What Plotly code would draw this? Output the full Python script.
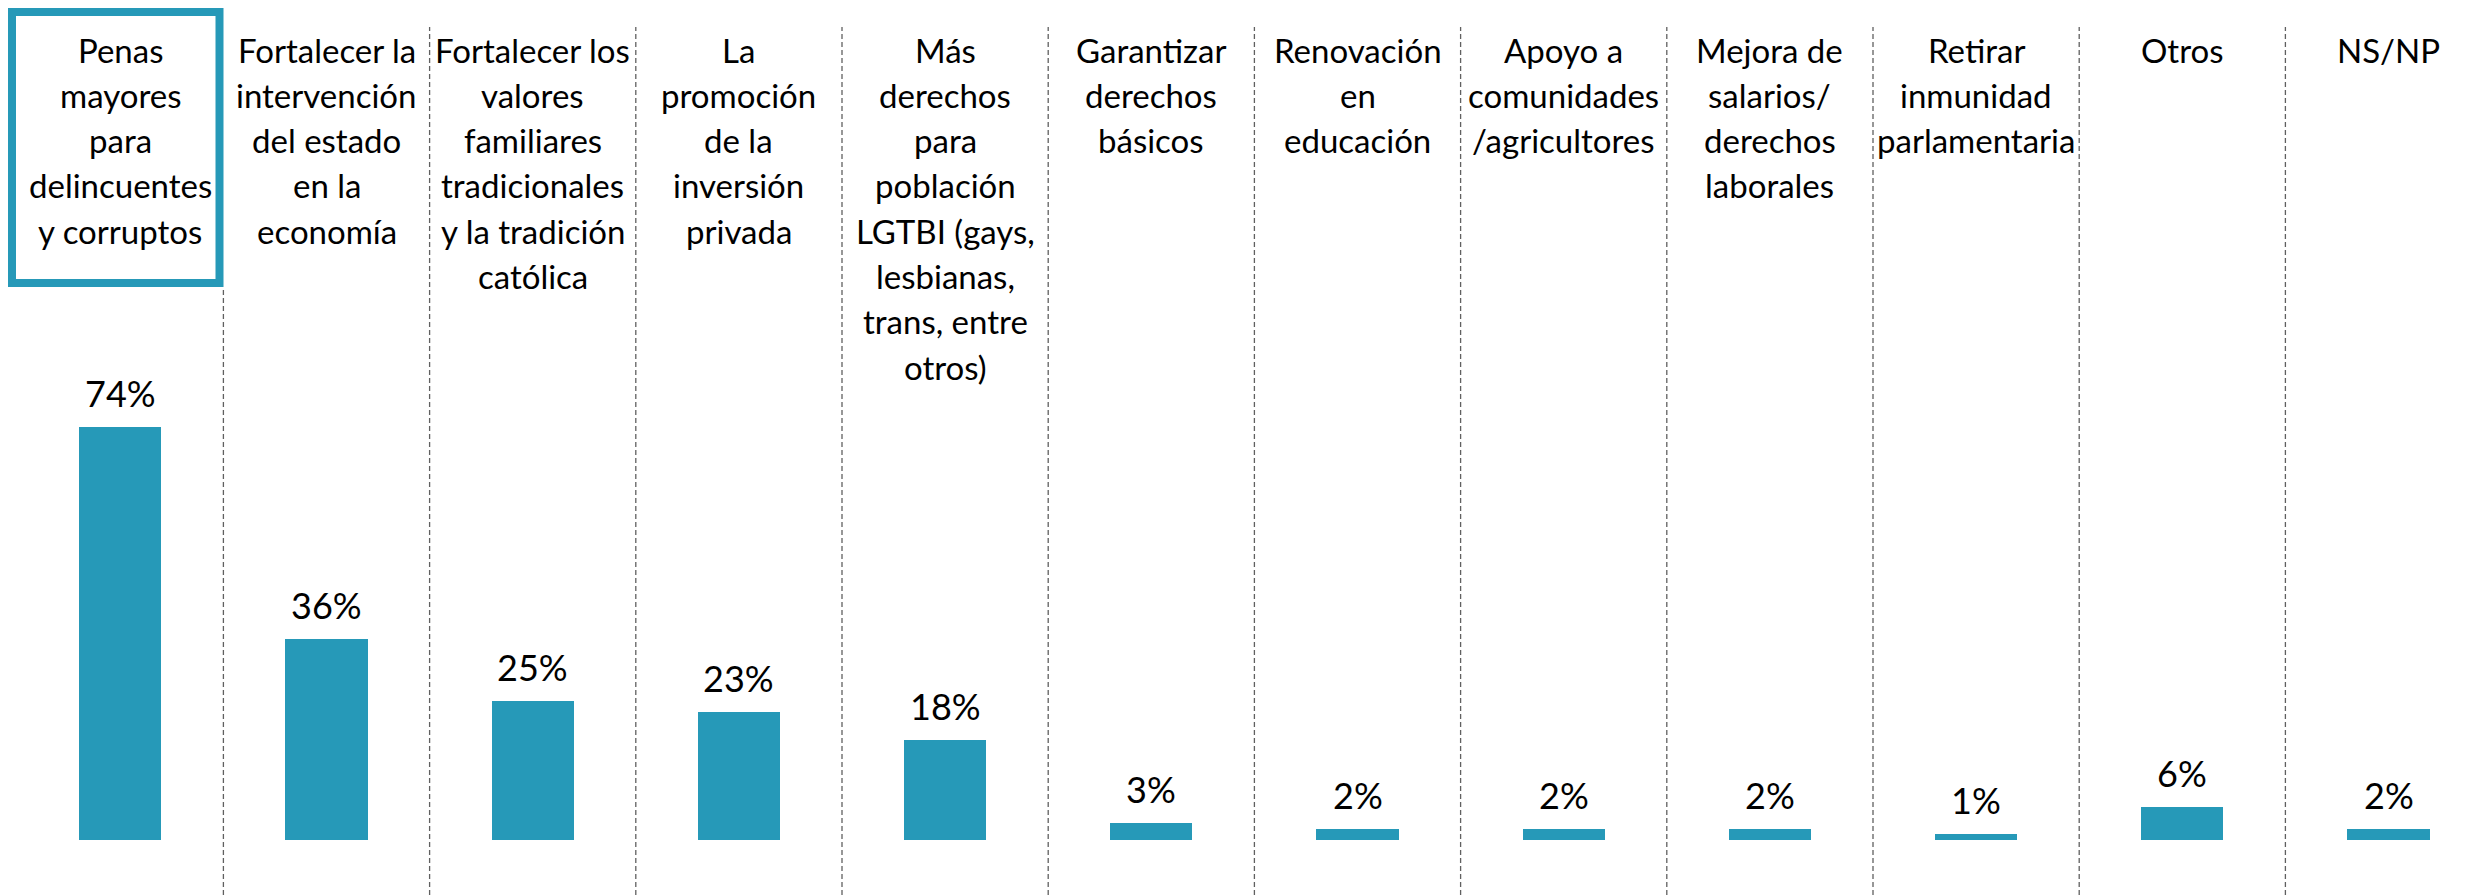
import plotly.graph_objects as go

categories = [
    "Penas<br>mayores<br>para<br>delincuentes<br>y corruptos",
    "Fortalecer la<br>intervención<br>del estado<br>en la<br>economía",
    "Fortalecer los<br>valores<br>familiares<br>tradicionales<br>y la tradición<br>católica",
    "La<br>promoción<br>de la<br>inversión<br>privada",
    "Más<br>derechos<br>para<br>población<br>LGTBI (gays,<br>lesbianas,<br>trans, entre<br>otros)",
    "Garantizar<br>derechos<br>básicos",
    "Renovación<br>en<br>educación",
    "Apoyo a<br>comunidades<br>/agricultores",
    "Mejora de<br>salarios/<br>derechos<br>laborales",
    "Retirar<br>inmunidad<br>parlamentaria",
    "Otros",
    "NS/NP",
]
values = [74, 36, 25, 23, 18, 3, 2, 2, 2, 1, 6, 2]
value_labels = ["74%", "36%", "25%", "23%", "18%", "3%", "2%", "2%", "2%", "1%", "6%", "2%"]

PAGE_W, PAGE_H = 2481, 895
OFF = 8  # default body margin of the html page
W, H = PAGE_W - OFF, PAGE_H - OFF
TEAL = "#2699B8"
FONT = "Lato"

x_idx = list(range(len(categories)))

# axis geometry (page pixel mapping)
px_per_cat = 206.2
first_center_page = 120.3
xa = -(first_center_page - OFF) / px_per_cat
xb = xa + W / px_per_cat
base_page = 840.0
px_per_pct = 5.58
ya = -(PAGE_H - base_page) / px_per_pct
yb = (base_page - OFF) / px_per_pct


def xd(page_x):
    return xa + (page_x - OFF) / px_per_cat


def yp(page_y):
    return 1 - (page_y - OFF) / H


fig = go.Figure()
fig.add_trace(go.Bar(
    x=x_idx, y=values, width=0.398,
    marker=dict(color=TEAL, line=dict(width=0)),
    hoverinfo="skip",
))

annotations = []
line_gap = 45.3
first_line_page = 52
for i, (c, v, t) in enumerate(zip(categories, values, value_labels)):
    for j, line in enumerate(c.split("<br>")):
        annotations.append(dict(
            x=i, y=yp(first_line_page + j * line_gap - 2.5), xref="x", yref="paper",
            text=line, showarrow=False, xanchor="center", yanchor="middle",
            font=dict(family=FONT, size=33, color="#000000"),
        ))
    annotations.append(dict(
        x=i, y=v, xref="x", yref="y", text=t, showarrow=False,
        xanchor="center", yanchor="bottom", yshift=10,
        font=dict(family=FONT, size=36, color="#000000"),
    ))

shapes = []
for k in range(len(categories) - 1):
    top = 287 if k == 0 else 27
    shapes.append(dict(
        type="line", xref="x", yref="paper", x0=k + 0.5, x1=k + 0.5,
        y0=0, y1=yp(top),
        line=dict(color="#606060", width=1.3, dash="5px,3px"),
    ))
shapes.append(dict(
    type="rect", xref="x", yref="paper",
    x0=xd(12), x1=xd(219.5),
    y0=yp(283), y1=yp(12),
    line=dict(color=TEAL, width=8),
))

fig.update_layout(
    width=W, height=H,
    margin=dict(l=0, r=0, t=0, b=0),
    paper_bgcolor="white", plot_bgcolor="white",
    showlegend=False,
    xaxis=dict(range=[xa, xb], visible=False, fixedrange=True),
    yaxis=dict(range=[ya, yb], visible=False, fixedrange=True),
    annotations=annotations,
    shapes=shapes,
    bargap=0,
)

fig.write_html("out.html")
